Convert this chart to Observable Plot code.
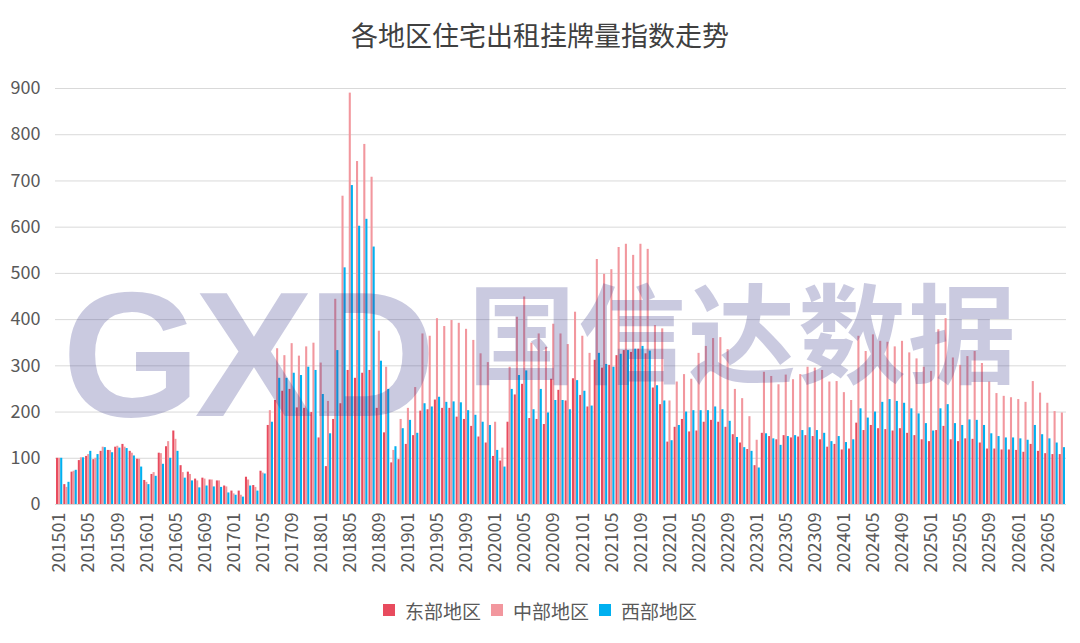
<!DOCTYPE html>
<html>
<head>
<meta charset="utf-8">
<script src="https://cdn.jsdelivr.net/npm/d3@7"></script>
<script src="https://cdn.jsdelivr.net/npm/@observablehq/plot@0.6"></script>
<style>
  html, body { margin: 0; padding: 0; background: #fff; }
  body { font-family: "Noto Sans CJK SC", "Noto Sans", sans-serif; }
  #wrap { position: relative; width: 1080px; height: 643px; overflow: hidden; background: #fff; }
  #title { position: absolute; left: 0; top: 0; width: 1080px; height: 70px; line-height: 70px;
           text-align: center; font-size: 27px; color: #404040; }
  #chart { position: absolute; left: 0; top: 70px; }
  #legend { position: absolute; left: 0; top: 590px; width: 1080px; height: 40px;
            display: flex; justify-content: center; align-items: center; gap: 10px;
            font-size: 19px; color: #595959; }
  #legend .item { display: flex; align-items: center; gap: 10px; }
  #legend .sw { width: 12px; height: 12px; display: inline-block; }
  .wm { position: absolute; pointer-events: none; color: rgba(60, 60, 140, 0.27); line-height: 1; white-space: nowrap; }
  #wm1 { left: 62px; top: 266px; font-family: "Liberation Sans", Arial, sans-serif; font-weight: 700; font-size: 178px; letter-spacing: -6px; }
  #wm2 { left: 468px; top: 274px; font-family: "Noto Sans CJK SC", sans-serif; font-weight: 700; font-size: 108px; letter-spacing: 2px; }
</style>
</head>
<body>
<div id="wrap">
  <div id="title"></div>
  <div id="chart"></div>
  <div id="legend"></div>
  <div class="wm" id="wm1">GXD</div>
  <div class="wm" id="wm2">国信达数据</div>
</div>
<script>
// ---- data ----
const titleText = "各地区住宅出租挂牌量指数走势";
const seriesNames = ["东部地区", "中部地区", "西部地区"];
const seriesColors = ["#e84b5e", "#f2979e", "#00b0f0"];

// months 201501 .. 202607
const months = [];
for (let y = 2015; y <= 2026; y++) {
  for (let m = 1; m <= 12; m++) {
    if (y === 2026 && m > 7) break;
    months.push(`${y}${String(m).padStart(2, "0")}`);
  }
}
const tickMonths = months.filter((d, i) => i % 4 === 0);
const yTicks = [0, 100, 200, 300, 400, 500, 600, 700, 800, 900];

const east = [
  100,43,70,95,104,97,115,117,124,130,
  115,98,52,65,111,125,159,84,70,55,
  57,53,51,40,29,29,59,41,72,171,
  225,245,249,209,208,199,144,82,184,218,
  290,273,284,290,208,155,90,97,130,149,
  202,205,226,208,208,189,184,169,146,133,
  104,94,178,237,260,186,184,173,271,247,
  224,272,236,211,312,295,301,322,333,329,
  336,326,252,216,135,167,184,157,159,178,
  182,178,167,151,133,119,84,154,147,140,
  149,144,146,149,147,140,124,130,118,120,
  176,160,171,164,162,159,164,154,149,140,
  136,160,169,140,136,142,141,133,120,120,
  118,118,117,113,130,115,110,108,108
];
const central = [
  100,37,72,101,108,100,124,117,126,124,
  111,98,48,69,110,136,141,69,65,51,
  55,53,51,38,23,20,53,37,68,203,
  337,322,348,321,341,349,306,223,444,667,
  890,742,779,708,375,297,117,184,208,253,
  369,364,402,385,398,392,379,355,326,307,
  178,122,297,405,449,349,369,340,390,369,
  346,416,364,327,530,498,508,556,563,539,
  563,552,387,380,224,265,281,271,327,342,
  359,361,335,249,229,190,139,286,277,259,
  280,270,281,297,295,290,265,266,242,225,
  364,331,367,353,351,341,353,328,315,297,
  288,378,402,317,301,320,331,305,265,240,
  234,231,227,221,266,241,219,201,198
];
const west = [
  100,48,74,101,115,108,123,112,122,121,
  105,81,43,61,87,100,115,57,51,36,
  40,38,37,25,20,16,40,29,66,178,
  273,273,284,279,297,290,238,153,333,512,
  690,602,617,557,310,249,125,164,182,154,
  218,211,232,221,222,220,203,193,178,171,
  117,81,249,279,289,205,249,198,225,225,
  205,268,245,213,327,303,297,325,333,336,
  342,332,257,224,138,171,200,203,203,203,
  211,205,180,145,123,115,79,153,142,128,
  147,149,160,166,160,154,136,147,134,140,
  207,187,200,221,227,223,219,207,196,175,
  159,207,216,175,171,183,182,171,153,147,
  144,144,142,139,171,151,142,133,123
];
const seriesValues = [east, central, west];

// ---- layout ----
const W = 1080, H = 520;
const mL = 55, mR = 14, mT = 18, mB = 86;
const pad = 0.14;
const step = (W - mL - mR) / (months.length + pad);
const bw = step * (1 - pad) / 3;

document.getElementById("title").textContent = titleText;

const marks = [
  Plot.gridY(yTicks, { stroke: "#d9d9d9", strokeOpacity: 1, strokeWidth: 1 })
];
seriesValues.forEach((vals, k) => {
  const data = months.map((m, i) => ({ month: m, value: vals[i] }));
  marks.push(Plot.barY(data, {
    x: "month", y: "value", fill: seriesColors[k],
    insetLeft: k * bw, insetRight: (2 - k) * bw
  }));
});
marks.push(Plot.axisY(yTicks, {
  tickSize: 0, tickPadding: 15, fontSize: 18, fill: "#595959", label: null
}));
marks.push(Plot.axisX(tickMonths, {
  tickSize: 0, tickPadding: 8, tickRotate: -90, fontSize: 18, fill: "#595959", label: null
}));

const plot = Plot.plot({
  width: W, height: H,
  marginLeft: mL, marginRight: mR, marginTop: mT, marginBottom: mB,
  style: { fontFamily: "'Noto Sans CJK SC', 'Noto Sans', sans-serif", background: "transparent", overflow: "visible" },
  x: { type: "band", domain: months, padding: pad, axis: null },
  y: { domain: [0, 900], axis: null },
  marks
});
document.getElementById("chart").appendChild(plot);

// legend
const legend = document.getElementById("legend");
seriesNames.forEach((n, k) => {
  const it = document.createElement("div");
  it.className = "item";
  const sw = document.createElement("span");
  sw.className = "sw";
  sw.style.background = seriesColors[k];
  const tx = document.createElement("span");
  tx.textContent = n;
  it.appendChild(sw); it.appendChild(tx);
  legend.appendChild(it);
});
</script>
</body>
</html>
